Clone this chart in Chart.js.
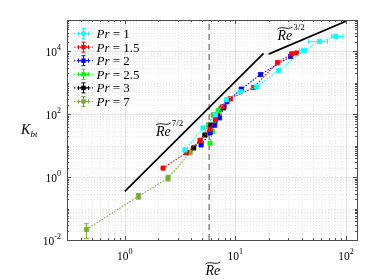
<!DOCTYPE html>
<html>
<head>
<meta charset="utf-8">
<script src="https://cdn.jsdelivr.net/npm/chart.js@4.4.1/dist/chart.umd.min.js"></script>
<style>
    html, body { margin: 0; padding: 0; background: #fff; }
    #wrap { width: 374px; height: 280px; }
</style>
</head>
<body>
<div id="wrap"><canvas id="chart" width="374" height="280"></canvas></div>
<script>
// Pr values and colours (legend order)
const prLabels = ['1', '1.5', '2', '2.5', '3', '7'];
const prColors = ['#00ffff', '#ff0000', '#0000ff', '#00ff00', '#000000', '#77ac30'];

// Re~ (x) and K_bt (y) for each Pr
const rePr1 = [3.5, 5.1, 6.6, 8.3, 11.1, 15.5, 24.6, 41.5, 58, 81];
const kPr1 = [7.3, 37, 96, 291, 525, 742, 2466, 10760, 20890, 30200];
const rePr15 = [2.22, 3.6, 4.8, 5.9, 6.6, 7.6, 9.0, 14.6, 24.1, 32.4, 35.9];
const kPr15 = [1.94, 6.0, 14.5, 33, 70, 170, 312, 705, 4446, 8400, 8900];
const rePr2 = [4.9, 5.9, 6.5, 7.2, 7.9, 8.4, 11.3, 16.9, 31.6];
const kPr2 = [10.6, 25.6, 45, 77, 174, 251, 630, 1837, 6918];
const rePr25 = [5.9, 6.2, 6.6, 7.0];
const kPr25 = [12, 28, 60, 130];
const rePr3 = [4.2, 5.3, 6.0, 6.9, 7.8];
const kPr3 = [8.5, 22, 45, 100, 160];
const rePr7 = [0.45, 1.33, 2.46, 3.9, 4.8, 5.7, 6.3, 7.3];
const kPr7 = [0.0217, 0.247, 0.93, 6.0, 15, 46, 96, 150];

// error bars [lo, hi] (null = none drawn)
const errRePr1 = [null, null, null, null, null, null, null, [38, 44], [46, 68], [74, 94]];
const errKPr7 = [[0.011, 0.033], [0.2, 0.3], [0.75, 1.15], null, null, null, null, null];

// scaling guide lines
const re72 = [1, 18];
const k72 = [0.35, 8700];
const re32 = [20, 100];
const k32 = [8200, 91000];
const reCritical = 5.8;

const xMajor = [1, 10, 100];
const yMajor = [0.01, 1, 100, 10000];

const serif = '"Liberation Serif", "DejaVu Serif", serif';

const toPoints = (xs, ys) => xs.map((x, i) => ({ x, y: ys[i] }));

const seriesX = [rePr1, rePr15, rePr2, rePr25, rePr3, rePr7];
const seriesY = [kPr1, kPr15, kPr2, kPr25, kPr3, kPr7];

const prDatasets = prLabels.map((p, i) => ({
    label: 'Pr = ' + p,
    data: toPoints(seriesX[i], seriesY[i]),
    showLine: true,
    borderColor: prColors[i],
    backgroundColor: prColors[i],
    borderWidth: 1.1,
    borderDash: [1.5, 1.5],
    pointStyle: 'rect',
    pointRadius: 3,
    pointBorderWidth: 0.8,
    inLegend: true
}));
prDatasets[0].errX = errRePr1;
prDatasets[5].errY = errKPr7;

const guideDatasets = [
    {
        data: toPoints(re72, k72), showLine: true, borderColor: '#000', borderWidth: 1.7,
        pointRadius: 0
    },
    {
        data: toPoints(re32, k32), showLine: true, borderColor: '#000', borderWidth: 1.7,
        pointRadius: 0
    },
    {
        data: [{ x: reCritical, y: 0.01 }, { x: reCritical, y: 1e5 }], showLine: true,
        borderColor: '#8c8c8c', borderWidth: 1.6, borderDash: [6, 4], pointRadius: 0
    }
];

function drawTilde(ctx, x0, y, w) {
    ctx.beginPath();
    ctx.moveTo(x0, y + 1);
    ctx.bezierCurveTo(x0 + w * 0.35, y - 2.5, x0 + w * 0.65, y + 2.5, x0 + w, y - 1);
    ctx.lineWidth = 0.9;
    ctx.strokeStyle = '#000';
    ctx.stroke();
}

function drawPower(ctx, x, y, text, exp) {
    ctx.fillStyle = '#000';
    ctx.textAlign = 'left';
    ctx.textBaseline = 'alphabetic';
    ctx.font = '11.5px ' + serif;
    ctx.fillText(text, x, y);
    const w = ctx.measureText(text).width;
    ctx.font = '8px ' + serif;
    ctx.fillText(exp, x + w, y - 6);
    return w + ctx.measureText(exp).width;
}

function drawReTilde(ctx, x, y, exp) {
    ctx.fillStyle = '#000';
    ctx.textAlign = 'left';
    ctx.textBaseline = 'alphabetic';
    ctx.font = 'italic 14px ' + serif;
    ctx.fillText('Re', x, y);
    const w = ctx.measureText('Re').width;
    drawTilde(ctx, x, y - 12, w);
    if (exp) {
        ctx.font = '9px ' + serif;
        ctx.fillText(exp, x + w + 1, y - 10);
    }
}

const gridPlugin = {
    id: 'logGrid',
    beforeDatasetsDraw(chart) {
        const { ctx, chartArea: a, scales: { x, y } } = chart;
        ctx.save();
        ctx.lineWidth = 0.8;
        for (let e = -1; e <= 2; e++) {
            for (let m = 1; m <= 9; m++) {
                const v = m * Math.pow(10, e);
                if (v < x.min || v > x.max) continue;
                const px = Math.round(x.getPixelForValue(v)) + 0.5;
                const major = m === 1;
                ctx.strokeStyle = major ? 'rgba(0,0,0,0.13)' : 'rgba(0,0,0,0.12)';
                ctx.setLineDash(major ? [] : [1, 2]);
                ctx.beginPath(); ctx.moveTo(px, a.top); ctx.lineTo(px, a.bottom); ctx.stroke();
            }
        }
        for (let e = -2; e <= 4; e++) {
            for (let m = 1; m <= 9; m++) {
                const v = m * Math.pow(10, e);
                const py = Math.round(y.getPixelForValue(v)) + 0.5;
                const major = m === 1 && e % 2 === 0;
                ctx.strokeStyle = major ? 'rgba(0,0,0,0.13)' : 'rgba(0,0,0,0.12)';
                ctx.setLineDash(major ? [] : [1, 2]);
                ctx.beginPath(); ctx.moveTo(a.left, py); ctx.lineTo(a.right, py); ctx.stroke();
            }
        }
        ctx.restore();
    }
};

const errorBarPlugin = {
    id: 'errorBars',
    afterDatasetsDraw(chart) {
        const { ctx, scales: { x, y } } = chart;
        ctx.save();
        ctx.lineWidth = 1;
        chart.data.datasets.forEach(ds => {
            if (!ds.errX && !ds.errY) return;
            ctx.strokeStyle = ds.borderColor;
            ds.data.forEach((pt, i) => {
                const px = x.getPixelForValue(pt.x);
                const py = y.getPixelForValue(pt.y);
                const ex = ds.errX && ds.errX[i];
                const ey = ds.errY && ds.errY[i];
                ctx.beginPath();
                if (ex) {
                    const l = x.getPixelForValue(ex[0]), r = x.getPixelForValue(ex[1]);
                    ctx.moveTo(l, py); ctx.lineTo(r, py);
                    ctx.moveTo(l, py - 2.5); ctx.lineTo(l, py + 2.5);
                    ctx.moveTo(r, py - 2.5); ctx.lineTo(r, py + 2.5);
                }
                if (ey) {
                    const lo = y.getPixelForValue(ey[0]), hi = y.getPixelForValue(ey[1]);
                    ctx.moveTo(px, lo); ctx.lineTo(px, hi);
                    ctx.moveTo(px - 2.5, lo); ctx.lineTo(px + 2.5, lo);
                    ctx.moveTo(px - 2.5, hi); ctx.lineTo(px + 2.5, hi);
                }
                ctx.stroke();
            });
        });
        ctx.restore();
    }
};

const framePlugin = {
    id: 'frame',
    afterDraw(chart) {
        const { ctx, chartArea: a, scales: { x, y } } = chart;
        ctx.save();

        // box and inside ticks
        ctx.strokeStyle = '#4d4d4d';
        ctx.lineWidth = 1;
        ctx.strokeRect(a.left + 0.5, a.top + 0.5, a.right - a.left, a.bottom - a.top);
        ctx.beginPath();
        for (let e = -1; e <= 2; e++) {
            for (let m = 1; m <= 9; m++) {
                const v = m * Math.pow(10, e);
                if (v < x.min || v > x.max) continue;
                const px = Math.round(x.getPixelForValue(v)) + 0.5;
                const len = m === 1 ? 4 : 2;
                ctx.moveTo(px, a.bottom); ctx.lineTo(px, a.bottom - len);
                ctx.moveTo(px, a.top); ctx.lineTo(px, a.top + len);
            }
        }
        for (let e = -2; e <= 4; e++) {
            for (let m = 1; m <= 9; m++) {
                const v = m * Math.pow(10, e);
                const py = Math.round(y.getPixelForValue(v)) + 0.5;
                const len = (m === 1 && e % 2 === 0) ? 4 : 2;
                ctx.moveTo(a.left, py); ctx.lineTo(a.left + len, py);
                ctx.moveTo(a.right, py); ctx.lineTo(a.right - len, py);
            }
        }
        ctx.stroke();

        // tick labels
        xMajor.forEach(v => {
            const exp = String(Math.round(Math.log10(v)));
            ctx.font = '11.5px ' + serif;
            const w1 = ctx.measureText('10').width;
            ctx.font = '8px ' + serif;
            const w2 = ctx.measureText(exp).width;
            const px = x.getPixelForValue(v);
            drawPower(ctx, px - (w1 + w2) / 2, a.bottom + 20, '10', exp);
        });
        yMajor.forEach(v => {
            const exp = String(Math.round(Math.log10(v)));
            ctx.font = '11.5px ' + serif;
            const w1 = ctx.measureText('10').width;
            ctx.font = '8px ' + serif;
            const w2 = ctx.measureText(exp).width;
            const py = y.getPixelForValue(v);
            drawPower(ctx, a.left - 6 - w1 - w2, py + 5, '10', exp);
        });

        // axis titles
        ctx.fillStyle = '#000';
        ctx.textAlign = 'left';
        ctx.font = 'italic 14px ' + serif;
        ctx.fillText('K', 21, 134);
        ctx.font = 'italic 9px ' + serif;
        ctx.fillText('bt', 30.5, 137);
        drawReTilde(ctx, 205.5, 275, null);

        // scaling annotations
        drawReTilde(ctx, 156, 136, '7/2');
        drawReTilde(ctx, 277.5, 40, '3/2');

        // legend
        chart.data.datasets.forEach((ds, i) => {
            if (!ds.inLegend) return;
            const ly = 33.5 + i * 13.6;
            const mx = 83.5;
            ctx.strokeStyle = ds.borderColor;
            ctx.fillStyle = ds.borderColor;
            ctx.lineWidth = 1;
            ctx.setLineDash([1.5, 1.5]);
            ctx.beginPath(); ctx.moveTo(74, ly); ctx.lineTo(93, ly); ctx.stroke();
            ctx.setLineDash([]);
            ctx.beginPath();
            ctx.moveTo(mx, ly - 5); ctx.lineTo(mx, ly + 5);
            ctx.moveTo(mx - 2, ly - 5); ctx.lineTo(mx + 2, ly - 5);
            ctx.moveTo(mx - 2, ly + 5); ctx.lineTo(mx + 2, ly + 5);
            ctx.moveTo(mx - 5, ly); ctx.lineTo(mx + 5, ly);
            ctx.moveTo(mx - 5, ly - 2); ctx.lineTo(mx - 5, ly + 2);
            ctx.moveTo(mx + 5, ly - 2); ctx.lineTo(mx + 5, ly + 2);
            ctx.stroke();
            ctx.fillRect(mx - 2.2, ly - 2.2, 4.4, 4.4);

            ctx.fillStyle = '#000';
            ctx.font = 'italic 13px ' + serif;
            ctx.fillText('Pr', 96.5, ly + 4.5);
            const w = ctx.measureText('Pr').width;
            ctx.font = '13px ' + serif;
            ctx.fillText(' = ' + prLabels[i], 96.5 + w, ly + 4.5);
        });

        ctx.restore();
    }
};

new Chart(document.getElementById('chart'), {
    type: 'scatter',
    data: { datasets: [...prDatasets, ...guideDatasets] },
    options: {
        responsive: false,
        devicePixelRatio: 1,
        animation: false,
        events: [],
        layout: { padding: { top: 20, right: 17, left: 0, bottom: 0 } },
        plugins: {
            legend: { display: false },
            tooltip: { enabled: false }
        },
        scales: {
            x: {
                type: 'logarithmic',
                min: 0.3,
                max: 126,
                grid: { display: false },
                border: { display: false },
                ticks: { display: false },
                afterFit: s => { s.height = 40; }
            },
            y: {
                type: 'logarithmic',
                min: 0.01,
                max: 1e5,
                grid: { display: false },
                border: { display: false },
                ticks: { display: false },
                afterFit: s => { s.width = 67; }
            }
        }
    },
    plugins: [gridPlugin, errorBarPlugin, framePlugin]
});
</script>
</body>
</html>
